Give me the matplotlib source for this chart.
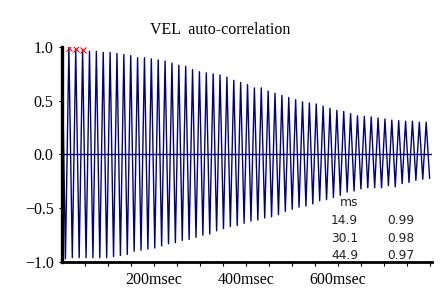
import numpy as np
import matplotlib
matplotlib.use("Agg")
import matplotlib.pyplot as plt

# auto-correlation of VEL, one peak and one trough per period
period_ms = 14.95
peak_vals = [1.00, 0.99, 0.98, 0.97, 0.96, 0.96, 0.95, 0.95, 0.94, 0.93,
             0.92, 0.90, 0.90, 0.89, 0.88, 0.87, 0.85, 0.83, 0.82, 0.79,
             0.77, 0.76, 0.75, 0.74, 0.72, 0.69, 0.67, 0.65, 0.62, 0.62,
             0.59, 0.57, 0.55, 0.53, 0.51, 0.49, 0.48, 0.47, 0.45, 0.43,
             0.41, 0.40, 0.38, 0.36, 0.355, 0.35, 0.34, 0.33, 0.32, 0.315,
             0.31, 0.31, 0.30, 0.30]
trough_vals = [-0.97, -0.96, -0.96, -0.96, -0.96, -0.96, -0.96, -0.95, -0.94, -0.93,
               -0.90, -0.89, -0.88, -0.87, -0.85, -0.83, -0.82, -0.80, -0.79, -0.77,
               -0.75, -0.74, -0.71, -0.69, -0.67, -0.66, -0.64, -0.62, -0.61, -0.59,
               -0.58, -0.56, -0.53, -0.51, -0.49, -0.48, -0.46, -0.43, -0.42, -0.40,
               -0.38, -0.35, -0.34, -0.32, -0.31, -0.31, -0.31, -0.29, -0.30, -0.27,
               -0.26, -0.24, -0.23, -0.22]

# cursor readout
cursor_ms = [14.9, 30.1, 44.9]
cursor_vals = [0.99, 0.98, 0.97]

xtick_vals = [200, 400, 600]
xtick_labels = ["200msec", "400msec", "600msec"]
ytick_vals = [-1.0, -0.5, 0.0, 0.5, 1.0]
ytick_labels = ["\u22121.0", "\u22120.5", "0.0", "0.5", "1.0"]

n = len(peak_vals)
lag = np.empty(2 * n)
corr = np.empty(2 * n)
lag[0::2] = np.arange(n) * period_ms
lag[1::2] = (np.arange(n) + 0.5) * period_ms
corr[0::2] = peak_vals
corr[1::2] = trough_vals

W, H = 443, 293
fig = plt.figure(figsize=(W / 100, H / 100), dpi=100)
ax = fig.add_axes([62 / W, 1 - 262 / H, 370 / W, 215 / H])

navy = "#000080"
ax.plot(lag, corr, color=navy, lw=1.0)
ax.axhline(0, color=navy, lw=1.0)
ax.plot(cursor_ms, cursor_vals, ls="none", marker="x", ms=4, mew=0.8, color="red")

ax.set_xlim(0, 805)
ax.set_ylim(-1, 1)
ax.set_xticks(xtick_vals)
ax.set_xticklabels(xtick_labels)
ax.set_xticks(np.arange(50, 801, 50), minor=True)
ax.set_yticks(ytick_vals)
ax.set_yticklabels(ytick_labels)

serif = "Liberation Serif"
for lab in ax.get_xticklabels() + ax.get_yticklabels():
    lab.set_family(serif)
    lab.set_fontsize(11.5)
ax.tick_params(axis="x", which="both", direction="out", length=3, width=0.8, pad=4)
ax.tick_params(axis="y", which="both", direction="out", length=2, width=0.8, pad=4)

ax.spines["top"].set_visible(False)
ax.spines["right"].set_visible(False)
ax.spines["left"].set_linewidth(2.4)
ax.spines["bottom"].set_linewidth(2.0)

fig.text(0.497, 1 - 30 / H, "VEL  auto-correlation", family=serif, fontsize=11.5,
         ha="center", va="center")

# readout table
fig.text(358 / W, 1 - 206 / H, "ms", ha="right", va="baseline", fontsize=8.8,
         color="#222222", family="DejaVu Sans")
for i, (t, v) in enumerate(zip(cursor_ms, cursor_vals)):
    yb = 1 - (224 + 17.5 * i) / H
    fig.text(358 / W, yb, f"{t:.1f}", ha="right", va="baseline", fontsize=8.8,
             color="#222222", family="DejaVu Sans")
    fig.text(414 / W, yb, f"{v:.2f}", ha="right", va="baseline", fontsize=8.8,
             color="#222222", family="DejaVu Sans")

fig.savefig("out.png", dpi=100)
